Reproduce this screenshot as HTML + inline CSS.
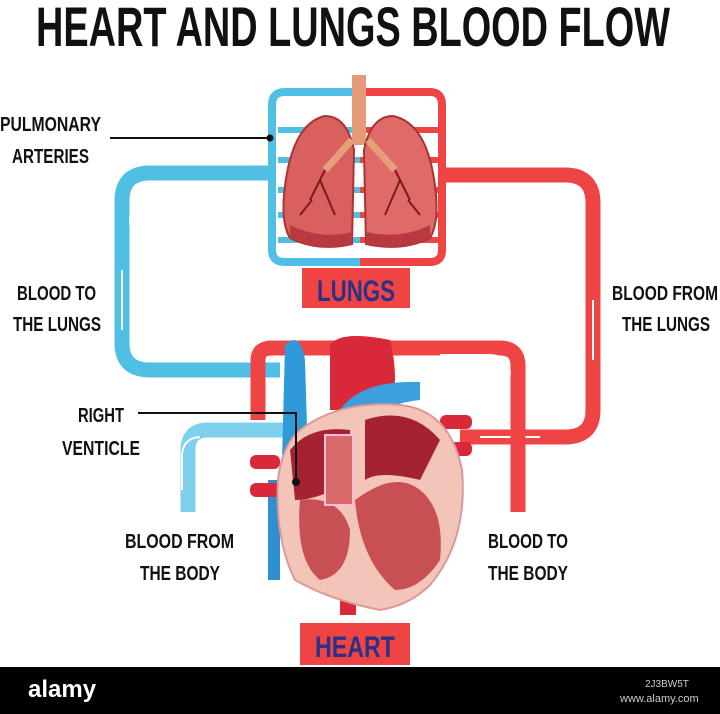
<!DOCTYPE html>
<html><head><meta charset="utf-8"><style>
html,body{margin:0;padding:0;background:#fff;width:720px;height:714px;overflow:hidden}
svg{display:block}
.t{font-family:"Liberation Sans",sans-serif;font-weight:bold;fill:#111}
</style></head><body>
<svg width="720" height="714" viewBox="0 0 720 714" xmlns="http://www.w3.org/2000/svg">
<rect width="720" height="714" fill="#fff"/>
<text class="t" x="36" y="46" font-size="56" textLength="634" lengthAdjust="spacingAndGlyphs">HEART AND LUNGS BLOOD FLOW</text>

<!-- blue loop to lungs -->
<path d="M272 173 H150 Q122 173 122 201 V343 Q122 370 150 370 H280" fill="none" stroke="#4fbfe3" stroke-width="15"/>
<path d="M130 225 Q130 185 150 183 H162" fill="none" stroke="#fff" stroke-width="2"/>
<path d="M122 330 V270" stroke="#fff" stroke-width="2"/>
<!-- red loop from lungs -->
<path d="M440 175 H565 Q593 175 593 203 V410 Q593 437 565 437 H460" fill="none" stroke="#ef4444" stroke-width="15"/>
<path d="M593 300 V360 M480 437 H540" stroke="#fff" stroke-width="2"/>
<!-- red over heart -->
<path d="M258 420 V360 Q258 348 272 348 H500 Q518 348 518 366 V512" fill="none" stroke="#ef4444" stroke-width="15"/>
<path d="M440 355 H490 Q510 356 510 375" fill="none" stroke="#fff" stroke-width="2"/>
<!-- blue from body -->
<path d="M188 512 V450 Q188 430 208 430 H290" fill="none" stroke="#7ed0ec" stroke-width="15"/>
<path d="M182 490 V455 Q183 438 200 437" fill="none" stroke="#fff" stroke-width="2"/>

<!-- lungs frame -->
<g fill="none" stroke-width="8">
<path d="M360 92 H285 Q272 92 272 105 V250 Q272 262 285 262 H360" stroke="#4fbfe3"/>
<path d="M360 92 H430 Q442 92 442 105 V250 Q442 262 430 262 H360" stroke="#ef4444"/>
<path d="M278 130 H360 M278 160 H360 M278 190 H360 M278 215 H360 M278 240 H360" stroke="#4fbfe3" stroke-width="6"/>
<path d="M360 130 H438 M360 160 H438 M360 190 H438 M360 215 H438 M360 240 H438" stroke="#ef4444" stroke-width="6"/>
</g>
<rect x="352" y="75" width="14" height="70" fill="#e59a7a"/>
<path d="M325 116 Q298 122 288 168 Q278 218 290 238 Q318 252 352 244 L354 150 Q347 116 325 116Z" fill="#d9605f" stroke="#a33" stroke-width="2"/>
<path d="M393 116 Q422 122 432 168 Q442 218 430 238 Q402 252 366 244 L364 150 Q371 116 393 116Z" fill="#e06a68" stroke="#a33" stroke-width="2"/>
<path d="M290 225 Q320 240 352 232 L352 244 Q318 252 290 238Z M430 225 Q400 240 366 232 L366 244 Q402 252 430 238Z" fill="#b8393f"/>
<path d="M352 140 L325 170 M368 140 L395 170" stroke="#e5a07a" stroke-width="7"/>
<path d="M325 170 L310 200 M320 180 L335 215 M312 200 L300 215 M395 170 L410 200 M400 180 L385 215 M408 200 L420 215" stroke="#7a1a22" stroke-width="2"/>
<rect x="302" y="268" width="108" height="40" fill="#ef4444"/>
<text x="356" y="301" font-size="30" font-family="Liberation Sans,sans-serif" font-weight="bold" fill="#2b3285" text-anchor="middle" textLength="78" lengthAdjust="spacingAndGlyphs">LUNGS</text>

<!-- heart -->
<rect x="268" y="480" width="12" height="100" fill="#2f8fd0"/>
<rect x="340" y="560" width="16" height="55" fill="#d8283a"/>
<rect x="250" y="455" width="30" height="14" rx="6" fill="#d8283a"/>
<rect x="250" y="483" width="30" height="14" rx="6" fill="#d8283a"/>
<rect x="440" y="415" width="32" height="14" rx="6" fill="#d8283a"/>
<rect x="440" y="442" width="32" height="14" rx="6" fill="#d8283a"/>
<path d="M285 345 Q300 330 305 360 L308 460 L282 460 Z" fill="#2f9ad8"/>
<path d="M330 345 Q340 330 390 340 Q400 380 390 410 L330 410 Z" fill="#d8283a"/>
<path d="M340 410 Q360 380 420 382 L420 400 Q375 405 365 430 Z" fill="#3b9fdc"/>
<path d="M300 430 Q340 400 400 405 Q450 410 462 470 Q468 540 430 585 Q410 605 380 610 Q330 600 295 580 Q275 540 278 480 Q282 445 300 430Z" fill="#f3c4b8" stroke="#d99" stroke-width="2"/>
<path d="M290 450 Q310 425 350 430 L350 480 Q320 500 295 500Z" fill="#a52230"/>
<path d="M365 420 Q410 405 440 440 L420 480 Q380 470 365 480Z" fill="#a52230"/>
<path d="M300 500 Q340 495 350 530 Q350 575 320 580 Q295 560 300 500Z" fill="#c85055"/>
<path d="M355 500 Q395 470 420 490 Q445 510 440 560 Q420 590 395 590 Q360 560 355 500Z" fill="#c85055"/>
<rect x="325" y="435" width="28" height="70" fill="#d86a6a" stroke="#fbd" stroke-width="2"/>
<rect x="300" y="623" width="110" height="42" fill="#ef4444"/>
<text x="355" y="657" font-size="30" font-family="Liberation Sans,sans-serif" font-weight="bold" fill="#2b3285" text-anchor="middle" textLength="80" lengthAdjust="spacingAndGlyphs">HEART</text>

<!-- leaders -->
<path d="M110 138 H270" stroke="#111" stroke-width="2"/><circle cx="270" cy="138" r="3.5" fill="#111"/>
<path d="M138 413 H296 V482" fill="none" stroke="#111" stroke-width="2"/><circle cx="296" cy="482" r="4" fill="#111"/>

<!-- labels -->
<g class="t" font-size="20">
<text x="0" y="131" textLength="101" lengthAdjust="spacingAndGlyphs">PULMONARY</text>
<text x="12" y="163" textLength="77" lengthAdjust="spacingAndGlyphs">ARTERIES</text>
<text x="17" y="300" textLength="79" lengthAdjust="spacingAndGlyphs">BLOOD TO</text>
<text x="13" y="331" textLength="88" lengthAdjust="spacingAndGlyphs">THE LUNGS</text>
<text x="612" y="300" textLength="106" lengthAdjust="spacingAndGlyphs">BLOOD FROM</text>
<text x="622" y="331" textLength="88" lengthAdjust="spacingAndGlyphs">THE LUNGS</text>
<text x="78" y="422" textLength="46" lengthAdjust="spacingAndGlyphs">RIGHT</text>
<text x="62" y="455" textLength="78" lengthAdjust="spacingAndGlyphs">VENTICLE</text>
<text x="125" y="548" textLength="109" lengthAdjust="spacingAndGlyphs">BLOOD FROM</text>
<text x="140" y="580" textLength="80" lengthAdjust="spacingAndGlyphs">THE BODY</text>
<text x="488" y="548" textLength="80" lengthAdjust="spacingAndGlyphs">BLOOD TO</text>
<text x="488" y="580" textLength="80" lengthAdjust="spacingAndGlyphs">THE BODY</text>
</g>

<rect x="0" y="667" width="720" height="47" fill="#000"/>
<text x="28" y="697" font-size="24" font-family="Liberation Sans,sans-serif" font-weight="bold" fill="#fff">alamy</text>
<text x="645" y="687" font-size="10" font-family="Liberation Sans,sans-serif" fill="#ccc">2J3BW5T</text>
<text x="620" y="702" font-size="11" font-family="Liberation Sans,sans-serif" fill="#ccc">www.alamy.com</text>
</svg>
</body></html>
